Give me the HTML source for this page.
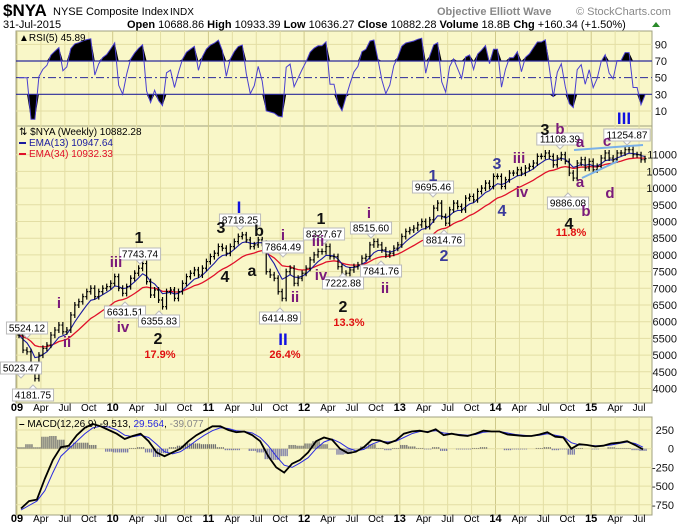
<!DOCTYPE html>
<html><head><meta charset="utf-8"><style>
body{margin:0;background:#fff;width:700px;height:530px;overflow:hidden;font-family:"Liberation Sans",sans-serif}
svg{display:block}
</style></head><body>
<svg id="c" width="700" height="530" xmlns="http://www.w3.org/2000/svg" font-family="Liberation Sans, sans-serif"></svg>
<script>
// ---- data (semi-monthly closes, Jan 2009 .. Jul 2015) ----
const closes = [
5600,5150,5100,4700,4300,5000,5200,5300,5600,5750,5900,5700,5750,6200,6500,6600,6750,6900,7000,6750,6900,7000,7050,7150,
7350,7000,6850,7050,7300,7450,7600,7740,7200,6800,6950,6650,6450,6900,6950,6700,6900,7150,7350,7450,7550,7400,7600,7800,
7950,8050,8250,8200,8050,8250,8400,8550,8600,8450,8250,8300,8450,8350,7500,7400,7300,6900,6700,7500,7600,7150,7300,7450,
7600,7850,8000,8100,8100,8250,7950,7950,7650,7350,7450,7550,7650,7700,7900,7950,8300,8400,8300,8150,8000,8050,8200,8300,
8550,8700,8750,8800,8900,9000,8850,9050,9400,9550,9150,8950,9350,9550,9450,9350,9700,9750,9650,9900,10000,10150,10050,10350,
10350,10050,10250,10450,10450,10550,10450,10600,10650,10750,10950,10950,11050,10950,10700,10900,11000,10800,10450,10300,10750,10850,10600,10800,
10550,10650,10900,11050,10900,10850,11050,11050,11150,11150,11000,11000,10850,10880];
const macdLine = [-800,-700,-680,-400,-150,20,40,180,280,330,300,250,
200,130,170,200,100,-50,-100,-50,0,100,180,240,
300,300,250,220,230,180,100,-100,-250,-320,-200,-150,
-50,100,150,120,0,-60,-40,20,120,110,70,110,
200,230,240,220,260,180,200,180,170,200,240,230,
230,190,180,170,170,190,220,160,150,0,60,50,
30,40,70,80,100,50,-10];
const signalLine = [-820,-760,-700,-560,-320,-100,0,100,200,280,300,290,
250,180,160,180,150,60,-40,-70,-40,30,110,180,
240,280,270,240,230,210,150,40,-100,-220,-250,-190,
-120,0,90,130,80,10,-30,-10,60,100,90,100,
150,200,230,230,240,210,200,190,180,190,220,230,
230,210,190,180,170,180,200,180,160,80,50,50,
40,40,50,70,90,70,20];
const priceTicks = [4000,4500,5000,5500,6000,6500,7000,7500,8000,8500,9000,9500,10000,10500,11000];
const rsiTicks = [90,70,50,30,10];
const macdTicks = [250,0,-250,-500,-750];
const yearLabels = ["09","10","11","12","13","14","15"];
const monthLabels = ["Apr","Jul","Oct"];

const svg = document.getElementById('c');
const NS = 'http://www.w3.org/2000/svg';
function mk(tag, attrs, parent){const e=document.createElementNS(NS,tag);for(const k in attrs)e.setAttribute(k,attrs[k]);(parent||svg).appendChild(e);return e;}
function txt(s,attrs,parent){const e=mk('text',attrs,parent);e.textContent=s;return e;}

const X0=17, YR=95.7, L=16, R=652;
const xT = t => X0 + t*YR;
const yP = v => 138 + (11500-v)*0.0334;
const yR = v => 61 - (v-70)*0.833;
const yM = v => 448.7 - v*0.0748;
const panels = [[31,126],[126,403],[417,515]];
const BG='#f9f7c8', GRID='#e3dea4', YGRID='#cfc98a';

panels.forEach((p,i)=>{
  const r=mk('rect',{x:L,y:p[0],width:R-L,height:p[1]-p[0],fill:BG,stroke:'#a0a080','stroke-width':1});
  
  
});
for(let y=0;y<7;y++)for(let q=0;q<4;q++){
  const x=xT(y+q/4); if(x>R) continue;
  panels.forEach(p=>mk('line',{x1:x,x2:x,y1:p[0],y2:p[1],stroke:q==0?YGRID:GRID,'stroke-width':1}));
}
const g=mk('g',{});


priceTicks.forEach(v=>{const y=yP(v); if(y<127||y>402) return;
  mk('line',{x1:L,x2:R,y1:y,y2:y,stroke:GRID},g);
  txt(String(v),{x:677,y:y+4,'font-size':11,'text-anchor':'end',fill:'#111'},g);});
const gr=mk('g',{});


rsiTicks.forEach(v=>{const y=yR(v);
  if(v==10||v==90) mk('line',{x1:L,x2:R,y1:y,y2:y,stroke:GRID},gr);
  txt(String(v),{x:667,y:y+4,'font-size':11,'text-anchor':'end',fill:'#111'},gr);});
const gm=mk('g',{});


macdTicks.forEach(v=>{const y=yM(v);
  mk('line',{x1:L,x2:R,y1:y,y2:y,stroke:GRID},gm);
  txt(String(v),{x:674,y:y+4,'font-size':11,'text-anchor':'end',fill:'#111'},gm);});
[411,522].forEach((yy,k)=>{
  const ga=mk('g',{});
  
  
  for(let y=0;y<7;y++){
    txt(yearLabels[y],{x:xT(y),y:yy,'font-size':11,'font-weight':'bold','text-anchor':'middle'},ga);
    monthLabels.forEach((m,q)=>{const x=xT(y+(q+1)/4); if(x<R+8) txt(m,{x:x,y:yy,'font-size':10,'text-anchor':'middle'},ga);});
  }
});

const defs=mk('defs',{});
panels.forEach((p,i)=>{const c=mk('clipPath',{id:'cp'+i},defs);mk('rect',{x:L,y:p[0],width:R-L,height:p[1]-p[0]},c);});

// ---- RSI ----
const N=closes.length, xi=i=>xT((i+0.5)/24);
function rsi(arr,n){const out=[];let ag=0,al=0;
  for(let i=0;i<arr.length;i++){ if(i==0){out.push(50);continue;}
    const d=arr[i]-arr[i-1],gn=Math.max(d,0),ls=Math.max(-d,0);
    if(i<=n){ag+=gn/n;al+=ls/n;}else{ag=(ag*(n-1)+gn)/n;al=(al*(n-1)+ls)/n;}
    out.push(i<n?50:(al==0?85:100-100/(1+ag/al)));}
  return out;}
const rs=rsi(closes,3);
const rg=mk('g',{'clip-path':'url(#cp0)'});


let pts=rs.map((v,i)=>xi(i).toFixed(1)+','+yR(v).toFixed(1));
mk('polygon',{points:xi(0)+','+yR(70)+' '+rs.map((v,i)=>xi(i).toFixed(1)+','+yR(Math.max(v,70)).toFixed(1)).join(' ')+' '+xi(N-1)+','+yR(70),fill:'#000'},rg);
mk('polygon',{points:xi(0)+','+yR(30)+' '+rs.map((v,i)=>xi(i).toFixed(1)+','+yR(Math.min(v,30)).toFixed(1)).join(' ')+' '+xi(N-1)+','+yR(30),fill:'#000'},rg);
mk('line',{x1:L,x2:R,y1:yR(70),y2:yR(70),stroke:'#2a2a9a','stroke-width':1.2},rg);
mk('line',{x1:L,x2:R,y1:yR(30),y2:yR(30),stroke:'#2a2a9a','stroke-width':1.2},rg);
mk('line',{x1:L,x2:R,y1:yR(50),y2:yR(50),stroke:'#2a2a9a','stroke-width':1,'stroke-dasharray':'8,3,2,3'},rg);
mk('polyline',{points:pts.join(' '),fill:'none',stroke:'#4a3fd0','stroke-width':1},rg);
const rl=txt('▲RSI(5) 45.89',{x:19,y:41,'font-size':10,fill:'#000'});



// ---- price bars ----
const pg=mk('g',{'clip-path':'url(#cp1)'});


function ema(a,n){const k=2/(n+1);let e=a[0];return a.map(v=>e=v*k+e*(1-k));}
const e13=ema(closes,6), e34=ema(closes,17);
mk('polyline',{points:e34.map((v,i)=>xi(i).toFixed(1)+','+yP(v).toFixed(1)).join(' '),fill:'none',stroke:'#e0102a','stroke-width':1.3},pg);
mk('polyline',{points:e13.map((v,i)=>xi(i).toFixed(1)+','+yP(v).toFixed(1)).join(' '),fill:'none',stroke:'#1a1aa0','stroke-width':1.1},pg);
closes.forEach((c,i)=>{
  const o=i?closes[i-1]:c, hi=Math.max(o,c)+90, lo=Math.min(o,c)-90;
  const x=xi(i);
  const b=mk('path',{d:`M${x},${yP(hi)}V${yP(lo)}M${x-1.5},${yP(o)}H${x}M${x},${yP(c)}H${x+1.5}`,stroke:'#000','stroke-width':1.2,fill:'none'},pg);
  
  
});
mk('line',{x1:574,y1:150,x2:643,y2:145,stroke:'#7ab0e8','stroke-width':2});
mk('line',{x1:582,y1:178,x2:618,y2:161,stroke:'#7ab0e8','stroke-width':2});

const lg=mk('g',{});


txt('⇅ $NYA (Weekly) 10882.28',{x:19,y:135,'font-size':10,fill:'#000'},lg);
mk('rect',{x:19,y:142,width:7,height:2,fill:'#1a1aa0'},lg);
txt('EMA(13) 10947.64',{x:29,y:146,'font-size':10,fill:'#1a1aa0'},lg);
mk('rect',{x:19,y:153,width:7,height:2,fill:'#e0102a'},lg);
txt('EMA(34) 10932.33',{x:29,y:157,'font-size':10,fill:'#e0102a'},lg);

function box(s,cx,cy,dir){
  const w=s.length*5.3+4,h=12;
  const gg=mk('g',{});
  
  
  mk('rect',{x:cx-w/2,y:cy-h/2,width:w,height:h,fill:'#fff',stroke:'#bbb'},gg);
  const py=dir=='down'?cy+h/2:cy-h/2, t=dir=='down'?4:-4;
  mk('polygon',{points:`${cx-4},${py} ${cx+4},${py} ${cx},${py+t}`,fill:'#fff',stroke:'#bbb'},gg);
  txt(s,{x:cx,y:cy+3.5,'font-size':10,'text-anchor':'middle',fill:'#000'},gg);
}
[['5524.12',27,328,'down'],['5023.47',21,368,'down'],['4181.75',33,395,'up'],['7743.74',140,254,'down'],
 ['6631.51',125,312,'up'],['6355.83',159,321,'up'],['8718.25',240,220,'down'],['7864.49',283,247,'down'],
 ['6414.89',280,318,'up'],['8327.67',324,234,'down'],['7222.88',343,283,'up'],['8515.60',371,228,'down'],
 ['7841.76',381,271,'up'],['9695.46',433,187,'down'],['8814.76',444,240,'up'],['11108.39',560,139,'down'],
 ['9886.08',568,203,'up'],['11254.87',627,135,'down']].forEach(a=>box(...a));

function wl(s,x,y,col,size){const t=txt(s,{x:x,y:y,'font-size':size,'font-weight':'bold',fill:col,'text-anchor':'middle'});
  
  }
const K='#111',P='#7a1a7a',B='#1010e0',N2='#3a3a9a',RD='#e01010';
[['i',59,308,P,15],['ii',67,347,P,15],['iii',116,267,P,15],['iv',123,332,P,15],['1',139,243,K,16],
 ['2',158,344,K,16],['17.9%',160,358,RD,11],['3',221,233,K,16],['4',225,282,K,16],['I',239,213,B,17],
 ['b',259,236,K,16],['a',252,276,K,16],['i',283,240,P,15],['ii',295,302,P,15],['II',283,345,B,17],
 ['26.4%',285,358,RD,11],['1',321,224,K,16],['iii',318,246,P,15],['iv',321,280,P,15],['2',343,312,K,16],
 ['13.3%',349,326,RD,11],['i',369,218,P,15],['ii',385,293,P,15],['1',433,181,N2,16],['2',444,261,N2,16],
 ['3',497,169,N2,16],['4',502,216,N2,16],['iii',519,163,P,15],['iv',522,197,P,15],['3',545,135,K,16],
 ['b',560,134,P,15],['a',580,187,P,15],['a',580,147,P,15],['c',607,146,P,15],['4',569,229,K,16],
 ['11.8%',571,236,RD,11],['b',586,216,P,15],['d',610,198,P,15],['III',624,124,B,17]].forEach(a=>wl(...a));

// ---- MACD ----
const mg=mk('g',{'clip-path':'url(#cp2)'});


const xm=i=>xT((i+0.5)/12);
macdLine.forEach((v,i)=>{const h=v-signalLine[i];
  for(let k=0;k<4;k++){const x=xm(i)-3+k*2;
    const b=mk('line',{x1:x,x2:x,y1:yM(0),y2:yM(h),stroke:h>=0?'#707070':'#7878a8','stroke-width':1.3},mg);
    
    }
});
mk('polyline',{points:signalLine.map((v,i)=>xm(i).toFixed(1)+','+yM(v).toFixed(1)).join(' '),fill:'none',stroke:'#2a2ae0','stroke-width':1},mg);
mk('polyline',{points:macdLine.map((v,i)=>xm(i).toFixed(1)+','+yM(v).toFixed(1)).join(' '),fill:'none',stroke:'#000','stroke-width':1.8},mg);
const ml=mk('text',{x:19,y:427,'font-size':10});


ml.innerHTML='<tspan font-weight="bold">–</tspan> MACD(12,26,9) -9.513, <tspan fill="#2a2ae0">29.564</tspan>, <tspan fill="#888">-39.077</tspan>';

// ---- header ----
const hd=mk('g',{});


txt('$NYA',{x:3,y:16,'font-size':17,'font-weight':'bold'},hd);
txt('NYSE Composite Index',{x:53,y:15,'font-size':11},hd);
txt('INDX',{x:170,y:15,'font-size':10},hd);
txt('Objective Elliott Wave',{x:437,y:15,'font-size':11,'font-weight':'bold',fill:'#888'},hd);
txt('© StockCharts.com',{x:576,y:15,'font-size':11,fill:'#888'},hd);
txt('31-Jul-2015',{x:3,y:28,'font-size':11},hd);
const oh=txt('',{x:127,y:28,'font-size':11},hd);
oh.innerHTML='<tspan font-weight="bold">Open</tspan> 10688.86 <tspan font-weight="bold">High</tspan> 10933.39 <tspan font-weight="bold">Low</tspan> 10636.27 <tspan font-weight="bold">Close</tspan> 10882.28 <tspan font-weight="bold">Volume</tspan> 18.8B <tspan font-weight="bold">Chg</tspan> +160.34 (+1.50%)';
mk('polygon',{points:'652,27 656,22 660,27',fill:'#2a8a2a'},hd);
</script>
</body></html>
